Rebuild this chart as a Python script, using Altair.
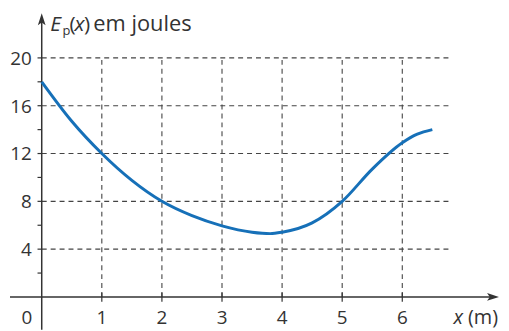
import altair as alt
import pandas as pd

# Curve data
curve_x = [0, 0.5, 1, 1.5, 2, 2.5, 3, 3.5, 3.8, 4, 4.5, 5, 5.5, 6, 6.25, 6.5]
curve_y = [18, 14.7, 12, 9.75, 8.0, 6.8, 5.95, 5.42, 5.3, 5.42, 6.2, 8.0, 10.7, 12.9, 13.62, 14.0]

x_ticks = [1, 2, 3, 4, 5, 6]
y_major = [4, 8, 12, 16, 20]
y_minor = [2, 6, 10, 14, 18]
y_labels = ["4", "8", "12", "16", "20"]
x_labels = ["1", "2", "3", "4", "5", "6"]

W, H = 497, 323
XD = [-34 / 60.58, (W - 34) / 60.58]
YD = [(290 - H) / 12.05, 290 / 12.05]

xs = alt.Scale(domain=XD, nice=False, zero=False)
ys = alt.Scale(domain=YD, nice=False, zero=False)
FONT = "Open Sans"
TXT = "#333333"
GRID = "#444444"


def X(f):
    return alt.X(f, type="quantitative", scale=xs, axis=None)


def Y(f):
    return alt.Y(f, type="quantitative", scale=ys, axis=None)


def px(p):
    return (p - 42) / 60.58


def py(p):
    return (298 - p) / 12.05


hgrid = alt.Chart(pd.DataFrame({"y": y_major, "x": 0, "x2": 6.8})).mark_rule(
    color=GRID, strokeWidth=1.1, strokeDash=[5, 4]
).encode(x=X("x"), x2="x2", y=Y("y"))

vgrid = alt.Chart(pd.DataFrame({"x": x_ticks, "y": 0, "y2": 20})).mark_rule(
    color=GRID, strokeWidth=1.1, strokeDash=[5, 4]
).encode(x=X("x"), y=Y("y"), y2="y2")

xaxis = alt.Chart(pd.DataFrame({"x": [-0.528], "x2": [7.5], "y": [0]})).mark_rule(
    color="#333333", strokeWidth=1.5
).encode(x=X("x"), x2="x2", y=Y("y"))

yaxis = alt.Chart(pd.DataFrame({"x": [0], "y": [YD[0]], "y2": [23.2]})).mark_rule(
    color="#333333", strokeWidth=1.5
).encode(x=X("x"), y=Y("y"), y2="y2")

xarrow = alt.Chart(pd.DataFrame({"x": [7.51], "y": [0]})).mark_point(
    shape="M-1,-0.65L1,0L-1,0.65L-0.55,0Z", filled=True, color="#333333", size=144, opacity=1
).encode(x=X("x"), y=Y("y"))

yarrow = alt.Chart(pd.DataFrame({"x": [0], "y": [23.24]})).mark_point(
    shape="M-0.65,1L0,-1L0.65,1L0,0.55Z", filled=True, color="#333333", size=144, opacity=1
).encode(x=X("x"), y=Y("y"))

xt = alt.Chart(pd.DataFrame({"x": x_ticks, "y": -0.4, "y2": 0.35})).mark_rule(
    color="#333333", strokeWidth=1.2
).encode(x=X("x"), y=Y("y"), y2="y2")

yt = alt.Chart(pd.DataFrame({"y": sorted(y_major + y_minor), "x": -0.07, "x2": 0})).mark_rule(
    color="#333333", strokeWidth=1.2
).encode(x=X("x"), x2="x2", y=Y("y"))

ylab = alt.Chart(pd.DataFrame({"y": y_major, "t": y_labels, "x": -0.165})).mark_text(
    align="right", baseline="middle", font=FONT, fontSize=19, color=TXT, dy=1
).encode(x=X("x"), y=Y("y"), text="t:N")

xlab = alt.Chart(pd.DataFrame({"x": x_ticks, "t": x_labels, "y": py(325)})).mark_text(
    align="center", baseline="alphabetic", font=FONT, fontSize=19, color=TXT
).encode(x=X("x"), y=Y("y"), text="t:N")

zero = alt.Chart(pd.DataFrame({"x": [px(27)], "y": [py(325)], "t": ["0"]})).mark_text(
    align="center", baseline="alphabetic", font=FONT, fontSize=19, color=TXT
).encode(x=X("x"), y=Y("y"), text="t:N")


def txt(x, y, t, size=21, style="normal", align="left"):
    return alt.Chart(pd.DataFrame({"x": [x], "y": [y], "t": [t]})).mark_text(
        align=align, baseline="alphabetic", font=FONT, fontSize=size,
        fontStyle=style, color=TXT
    ).encode(x=X("x"), y=Y("y"), text="t:N")


title_layers = [
    txt(px(50.5), py(30), "E", style="italic"),
    txt(px(63), py(33.5), "p", size=13),
    txt(px(70), py(30), "("),
    txt(px(75), py(30), "x", style="italic"),
    txt(px(84.5), py(30), ")"),
    txt(px(94), py(30), "em joules", size=22),
]

xl1 = txt(px(457), py(325), "x", style="italic", size=20)
xl2 = txt(px(502), py(325), "(m)", align="right", size=20)

line = alt.Chart(pd.DataFrame({"x": curve_x, "y": curve_y})).mark_line(
    color="#1670b8", strokeWidth=3, interpolate="monotone"
).encode(x=X("x"), y=Y("y"))

chart = alt.layer(
    hgrid, vgrid, xaxis, yaxis, xt, yt, xarrow, yarrow, line,
    ylab, xlab, zero, *title_layers, xl1, xl2
).properties(
    width=W, height=H, padding=0, autosize=alt.AutoSizeParams(type="none")
).configure_view(stroke=None)

chart.save("out.html", embed_options={"renderer": "svg", "actions": False})
